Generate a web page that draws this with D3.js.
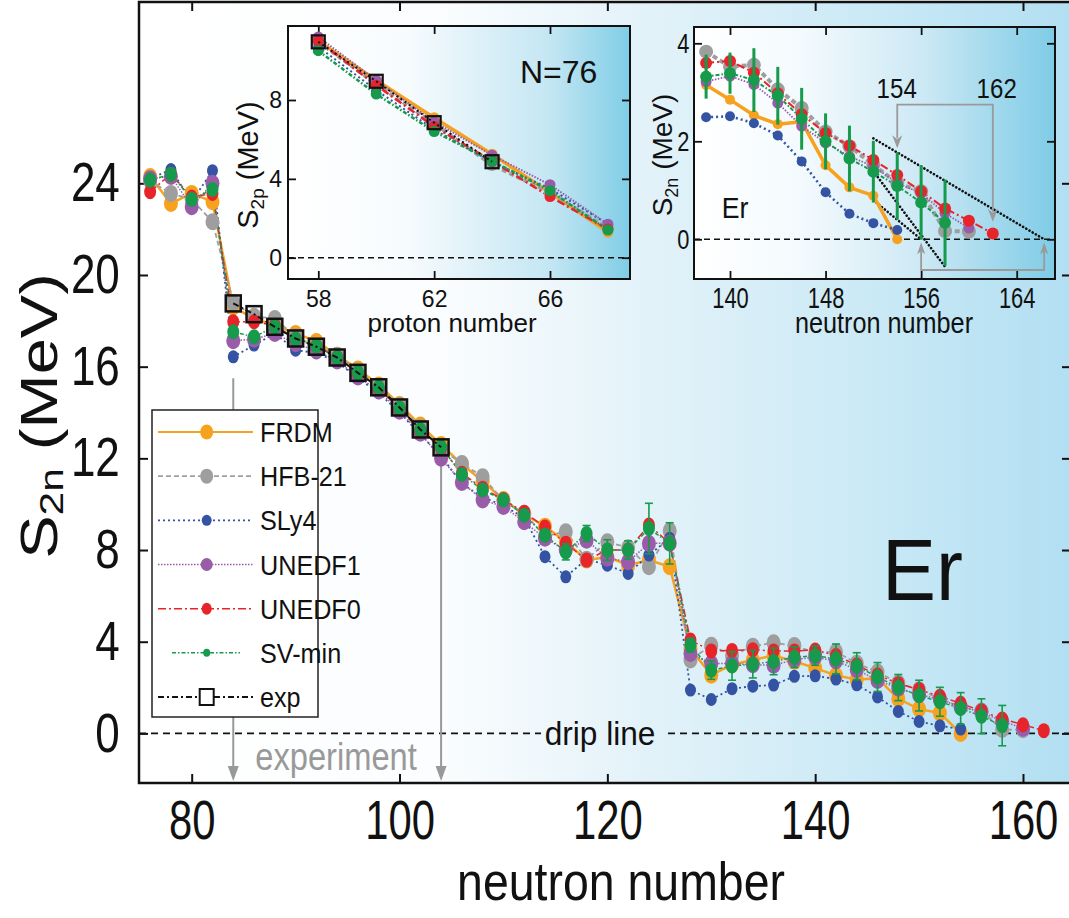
<!DOCTYPE html>
<html><head><meta charset="utf-8">
<script src="https://cdn.jsdelivr.net/npm/d3@7"></script>
<style>body{margin:0;background:#fff} svg{display:block} text{font-family:"Liberation Sans",Arial,Helvetica,sans-serif}</style>
</head><body><svg id="c" width="1069" height="918"></svg>
<script>
// ---------------- DATA ----------------
const neutrons = [76,78,80,82,84,86,88,90,92,94,96,98,100,102,104,106,108,110,112,114,116,118,120,122,124,126,128,130,132,134,136,138,140,142,144,146,148,150,152,154,156,158,160,162];
const frdm   = [24.3,23.12,23.56,23.2,18.6,18.1,17.8,17.45,17.1,16.5,15.9,15.2,14.35,13.45,12.6,11.75,11.0,10.2,9.55,9.04,8.36,7.56,7.7,7.34,7.56,7.27,3.7,2.54,3.0,3.2,3.4,3.15,2.85,2.53,2.35,2.40,1.51,1.06,0.89,0.0,null,null,null,null];
const hfb21  = [24.1,23.56,23.3,22.32,18.8,18.2,18.1,17.3,16.9,16.5,15.8,15.15,14.3,13.35,12.4,11.78,11.2,10.15,9.6,8.6,8.8,7.6,8.36,8.1,7.27,8.84,3.2,3.85,3.4,3.8,3.95,3.83,3.52,3.56,3.06,2.68,2.2,1.9,1.52,1.15,0.98,0.17,0.16,null];
const sly4   = [24.2,24.6,23.2,24.55,16.43,16.94,17.45,16.72,16.6,16.2,15.5,14.85,14.0,13.05,12.1,10.9,10.3,9.95,9.4,7.71,6.83,7.6,7.34,6.98,7.78,8.51,1.89,1.48,1.95,2.06,2.11,2.49,2.51,2.37,2.12,1.59,0.96,0.52,0.33,0.19,null,null,null,null];
const unedf1 = [24.2,24.3,22.98,24.0,17.13,17.2,17.45,17.0,16.7,16.25,15.55,14.95,14.05,13.1,12.0,10.95,10.18,9.9,9.23,8.51,8.0,8.43,7.64,7.49,8.29,8.3,3.49,3.05,3.05,3.0,2.97,3.22,3.33,3.16,2.78,2.31,1.97,1.69,1.49,1.15,0.94,0.53,0.23,null];
const unedf0 = [23.63,24.4,23.4,23.56,17.96,17.96,17.8,17.2,16.9,16.4,15.7,15.05,14.15,13.2,12.45,11.35,10.7,10.2,9.65,9.0,8.3,7.56,8.0,8.0,9.09,8.3,4.07,3.6,3.62,3.65,3.6,3.6,3.64,3.4,2.98,2.55,2.17,1.91,1.62,1.31,0.98,0.63,0.38,0.12];
const svmin  = [24.14,24.4,23.3,23.73,17.52,17.3,17.74,17.2,16.9,16.4,15.75,15.1,14.2,13.25,12.5,11.3,10.62,10.18,9.52,8.65,7.92,8.72,8.0,8.0,8.94,8.29,3.85,2.76,2.94,3.02,3.14,3.32,3.39,3.25,2.93,2.46,2.0,1.65,1.38,1.09,0.75,0.34,null,null];
const svminErr = [0.15,0.15,0.15,0.15,0.15,0.15,0.15,0.15,0.15,0.15,0.3,0.2,0.2,0.2,0.2,0.2,0.2,0.2,0.2,0.25,0.35,0.35,0.45,0.4,1.1,0.9,0.3,0.4,0.62,0.6,0.58,0.45,0.42,0.65,0.59,0.63,0.57,0.67,0.63,0.69,0.76,0.88,null,null];
const expN   = [84,86,88,90,92,94,96,98,100,102,104];
const expS2n = [18.76,18.29,17.74,17.23,16.87,16.4,15.73,15.1,14.22,13.26,12.48];

const xTicks = [80,100,120,140,160];
const yTicks = [0,4,8,12,16,20,24];

// inset 1 : N = 76 isotones
const protonZ  = [58,60,62,64,66,68];
const s2pFRDM  = [11.0,9.0,7.1,5.25,3.3,1.3];
const s2pHFB   = [10.95,8.8,6.8,4.7,3.3,1.5];
const s2pSLy4  = [10.7,8.5,6.5,4.85,3.5,1.7];
const s2pUN1   = [11.2,9.0,6.9,5.2,3.7,1.7];
const s2pUN0   = [11.0,8.75,6.65,4.9,3.1,1.45];
const s2pSV    = [10.5,8.3,6.4,4.9,3.4,1.4];
const expZ     = [58,60,62,64];
const s2pExp   = [10.95,8.95,6.85,4.87];
const in1XTicks = [58,62,66];
const in1YTicks = [0,4,8];

// inset 2 : Er drip line region
const in2Start = 138;
const in2XTicks = [140,148,156,164];
const in2YTicks = [0,2,4];
const extrapLines = [[[152,2.06],[166.3,0]],[[152,1.39],[158,-0.56]],[[152,0.8],[156,0]]];
const bracketTop = [[154,1.86],[162,0.36]];
const bracketBottom = [156,166.3];

// ---------------- STYLE ----------------
const series = [
 {name:"FRDM",   vals:frdm,   color:"#f6a21e", dash:null,          w:2.5, rx:7,   ry:8.5, lrx:6.5, lry:7.5, r1:5.5, w1:3.5, w2:3.5, r2:5},
 {name:"HFB-21", vals:hfb21,  color:"#9e9e9e", dash:"5,3",         w:1.8, rx:7,   ry:8.5, lrx:6.5, lry:7.5, r1:6,   w1:3.5, w2:4,   r2:7},
 {name:"SLy4",   vals:sly4,   color:"#3553a3", dash:"2,3",         w:1.8, rx:5.5, ry:6.5, lrx:5,   lry:5.5, r1:5,   w1:2,   w2:2.5, r2:5},
 {name:"UNEDF1", vals:unedf1, color:"#9a5ba8", dash:"1.5,1.5",     w:1.5, rx:7,   ry:8.5, lrx:6,   lry:6.5, r1:5.5, w1:2,   w2:1.8, r2:5.5},
 {name:"UNEDF0", vals:unedf0, color:"#e8242b", dash:"8,3,2,3",     w:1.5, rx:6,   ry:7.5, lrx:5,   lry:6,   r1:5.5, w1:2.5, w2:2,   r2:6},
 {name:"SV-min", vals:svmin,  color:"#169a4b", dash:"4,2,1.5,2",   w:1.5, rx:6,   ry:7.5, lrx:3.5, lry:4,   r1:5.5, w1:2.5, w2:2,   r2:6}
];
const inset1Vals = [s2pFRDM,s2pHFB,s2pSLy4,s2pUN1,s2pUN0,s2pSV];

// ---------------- HELPERS ----------------
const svg = d3.select("#c");
const defs = svg.append("defs");
function grad(id, stops){
  const g = defs.append("linearGradient").attr("id",id).attr("x1",0).attr("x2",1).attr("y1",0).attr("y2",0);
  stops.forEach(s=>g.append("stop").attr("offset",s[0]).attr("stop-color",s[1]));
}
grad("gMain",[[0,"#ffffff"],[0.32,"#fbfdfe"],[0.54,"#e3f2f9"],[0.77,"#cceaf6"],[1,"#b2dff2"]]);
grad("gIn1",[[0,"#ffffff"],[0.35,"#f7fbfd"],[0.77,"#c3e6f3"],[1,"#7fcde6"]]);
grad("gIn2",[[0,"#ffffff"],[0.3,"#f3fafd"],[0.63,"#cde9f5"],[1,"#7fcce6"]]);

function T(g, x, y, str, size, o={}){
  return g.append("text")
    .attr("transform",`translate(${x},${y}) rotate(${o.rot||0}) scale(${o.sx||1},1)`)
    .attr("font-size",size).attr("text-anchor",o.anchor||"start")
    .attr("fill",o.fill||"#111").text(str);
}
function styleAxis(g, size, sx, sw){
  g.select(".domain").remove();
  g.selectAll(".tick line").attr("stroke","#111").attr("stroke-width",sw);
  g.selectAll(".tick text").attr("font-size",size).attr("fill","#111")
    .attr("font-family",'"Liberation Sans",Arial,sans-serif')
    .attr("transform",`scale(${sx},1)`);
}

// ---------------- MAIN PLOT ----------------
const X0=139, X1=1071, Y0=2, Y1=783;
const x = d3.scaleLinear().domain([80,160]).range([191.7,1023]);
const y = d3.scaleLinear().domain([0,24]).range([733.4,183.3]);

svg.append("rect").attr("x",X0).attr("y",Y0).attr("width",X1-X0).attr("height",Y1-Y0).attr("fill","url(#gMain)");

// drip line
svg.append("line").attr("x1",X0).attr("x2",541).attr("y1",y(0)).attr("y2",y(0)).attr("stroke","#111").attr("stroke-width",1.8).attr("stroke-dasharray","7,5");
svg.append("line").attr("x1",668).attr("x2",X1).attr("y1",y(0)).attr("y2",y(0)).attr("stroke","#111").attr("stroke-width",1.8).attr("stroke-dasharray","7,5");
T(svg, 600, 745, "drip line", 34, {anchor:"middle", sx:0.93});

// experiment arrows
function vArrow(g, xx, ya, yb, col, w, hw, hl){
  g.append("line").attr("x1",xx).attr("x2",xx).attr("y1",ya).attr("y2",yb-hl+1).attr("stroke",col).attr("stroke-width",w);
  const dir = yb>ya?1:-1;
  g.append("path").attr("d",`M${xx-hw},${yb-dir*hl} L${xx+hw},${yb-dir*hl} L${xx},${yb} Z`).attr("fill",col);
}
vArrow(svg, x(84), y(15.5), 781, "#999", 2, 5.5, 15);
vArrow(svg, x(104), y(11.7), 781, "#999", 2, 5.5, 15);
T(svg, 336, 770, "experiment", 38, {anchor:"middle", sx:0.86, fill:"#999"});

// axes
const gxB = svg.append("g").attr("transform",`translate(0,${Y1})`)
  .call(d3.axisBottom(x).tickValues(xTicks).tickSize(-9).tickPadding(17).tickFormat(d3.format("d")));
styleAxis(gxB, 55, 0.76, 2);
const gxT = svg.append("g").attr("transform",`translate(0,${Y0})`)
  .call(d3.axisTop(x).tickValues(xTicks).tickSize(-9).tickFormat(""));
styleAxis(gxT, 55, 1, 2);
const gyL = svg.append("g").attr("transform",`translate(${X0},0)`)
  .call(d3.axisLeft(y).tickValues(yTicks).tickSize(-9).tickPadding(24).tickFormat(d3.format("d")));
styleAxis(gyL, 55, 0.8, 2);
const gyR = svg.append("g").attr("transform",`translate(${X1},0)`)
  .call(d3.axisRight(y).tickValues(yTicks).tickSize(-9).tickFormat(""));
styleAxis(gyR, 55, 1, 2);
// frame
svg.append("path").attr("d",`M${X1},${Y0} L${X0},${Y0} L${X0},${Y1} L${X1},${Y1}`).attr("fill","none").attr("stroke","#111").attr("stroke-width",2.5);

// axis titles
T(svg, 621, 900, "neutron number", 54, {anchor:"middle", sx:0.86});
const yt = svg.append("text").attr("transform","translate(57,416) rotate(-90) scale(1.25,1)").attr("font-size",52).attr("text-anchor","middle").attr("fill","#111");
yt.append("tspan").text("S");
yt.append("tspan").attr("font-size",34).attr("dy",6).text("2n");
yt.append("tspan").attr("dy",-6).text(" (MeV)");

// big Er
T(svg, 882, 600, "Er", 88, {sx:0.92});

// series lines + markers
const mainG = svg.append("g");
series.forEach(s=>{
  const pts = neutrons.map((n,i)=>({n, v:s.vals[i]})).filter(d=>d.v!=null);
  mainG.append("path").datum(pts)
    .attr("d", d3.line().x(d=>x(d.n)).y(d=>y(d.v)))
    .attr("fill","none").attr("stroke",s.color).attr("stroke-width",s.w)
    .attr("stroke-dasharray",s.dash);
});
const expPts = expN.map((n,i)=>({n, v:expS2n[i]}));
series.forEach(s=>{
  const pts = neutrons.map((n,i)=>({n, v:s.vals[i], e:svminErr[i]})).filter(d=>d.v!=null);
  if(s.name==="SV-min"){
    const eg = mainG.append("g").attr("stroke",s.color).attr("stroke-width",1.6);
    pts.forEach(d=>{
      eg.append("line").attr("x1",x(d.n)).attr("x2",x(d.n)).attr("y1",y(d.v-d.e)).attr("y2",y(d.v+d.e));
      eg.append("line").attr("x1",x(d.n)-4).attr("x2",x(d.n)+4).attr("y1",y(d.v-d.e)).attr("y2",y(d.v-d.e));
      eg.append("line").attr("x1",x(d.n)-4).attr("x2",x(d.n)+4).attr("y1",y(d.v+d.e)).attr("y2",y(d.v+d.e));
    });
  }
  mainG.append("g").selectAll("ellipse").data(pts).join("ellipse")
    .attr("cx",d=>x(d.n)).attr("cy",d=>y(d.v)).attr("rx",s.rx).attr("ry",s.ry).attr("fill",s.color);
});
mainG.append("path").datum(expPts)
  .attr("d", d3.line().x(d=>x(d.n)).y(d=>y(d.v)))
  .attr("fill","none").attr("stroke","#111").attr("stroke-width",2).attr("stroke-dasharray","6,3,2,3");
mainG.append("g").selectAll("rect").data(expPts).join("rect")
  .attr("x",d=>x(d.n)-7.5).attr("y",d=>y(d.v)-8).attr("width",15).attr("height",16)
  .attr("fill","none").attr("stroke","#111").attr("stroke-width",2.5);

// legend
const lg = svg.append("g");
lg.append("rect").attr("x",152).attr("y",410).attr("width",166).attr("height",307).attr("fill","#fff").attr("stroke","#222").attr("stroke-width",1.5);
const legY = d3.scaleLinear().domain([0,6]).range([432,697]);
series.forEach((s,i)=>{
  const yy = legY(i);
  const xa = s.name==="SV-min"?172:158, xb = s.name==="SV-min"?240:253;
  lg.append("line").attr("x1",xa).attr("x2",xb).attr("y1",yy).attr("y2",yy).attr("stroke",s.color).attr("stroke-width",Math.min(s.w,2)).attr("stroke-dasharray",s.dash);
  lg.append("ellipse").attr("cx",206.7).attr("cy",yy).attr("rx",s.lrx).attr("ry",s.lry).attr("fill",s.color);
  T(lg, 260, yy+10, s.name, 28, {sx:0.9});
});
{
  const yy = legY(6);
  lg.append("line").attr("x1",158).attr("x2",253).attr("y1",yy).attr("y2",yy).attr("stroke","#111").attr("stroke-width",1.8).attr("stroke-dasharray","6,3,2,3");
  lg.append("rect").attr("x",199.7).attr("y",yy-8).attr("width",14).attr("height",16).attr("fill","#fff").attr("stroke","#111").attr("stroke-width",2);
  T(lg, 260, yy+10, "exp", 28, {sx:0.9});
}

// ---------------- INSET 1 ----------------
{
  const L=288,R=630,TT=26,B=279;
  const xi = d3.scaleLinear().domain([58,66]).range([318.3,550]);
  const yi = d3.scaleLinear().domain([0,8]).range([257.7,100]);
  const g = svg.append("g");
  g.append("rect").attr("x",L).attr("y",TT).attr("width",R-L).attr("height",B-TT).attr("fill","url(#gIn1)");
  g.append("line").attr("x1",L).attr("x2",R).attr("y1",yi(0)).attr("y2",yi(0)).attr("stroke","#111").attr("stroke-width",1.5).attr("stroke-dasharray","6,4");
  const a1 = g.append("g").attr("transform",`translate(0,${B})`).call(d3.axisBottom(xi).tickValues(in1XTicks).tickSize(-8).tickPadding(12).tickFormat(d3.format("d")));
  styleAxis(a1, 23, 1, 1.8);
  const a2 = g.append("g").attr("transform",`translate(0,${TT})`).call(d3.axisTop(xi).tickValues(in1XTicks).tickSize(-8).tickFormat(""));
  styleAxis(a2, 23, 1, 1.8);
  const a3 = g.append("g").attr("transform",`translate(${L},0)`).call(d3.axisLeft(yi).tickValues(in1YTicks).tickSize(-8).tickPadding(6).tickFormat(d3.format("d")));
  styleAxis(a3, 23, 1, 1.8);
  const a4 = g.append("g").attr("transform",`translate(${R},0)`).call(d3.axisRight(yi).tickValues(in1YTicks).tickSize(-8).tickFormat(""));
  styleAxis(a4, 23, 1, 1.8);
  g.append("rect").attr("x",L).attr("y",TT).attr("width",R-L).attr("height",B-TT).attr("fill","none").attr("stroke","#111").attr("stroke-width",2);
  series.forEach((s,k)=>{
    const pts = protonZ.map((z,i)=>({z, v:inset1Vals[k][i]}));
    g.append("path").datum(pts).attr("d",d3.line().x(d=>xi(d.z)).y(d=>yi(d.v)))
      .attr("fill","none").attr("stroke",s.color).attr("stroke-width",s.w1).attr("stroke-dasharray",s.dash);
  });
  series.forEach((s,k)=>{
    const pts = protonZ.map((z,i)=>({z, v:inset1Vals[k][i]}));
    g.append("g").selectAll("circle").data(pts).join("circle").attr("cx",d=>xi(d.z)).attr("cy",d=>yi(d.v)).attr("r",s.r1).attr("fill",s.color);
  });
  const ep = expZ.map((z,i)=>({z, v:s2pExp[i]}));
  g.append("path").datum(ep).attr("d",d3.line().x(d=>xi(d.z)).y(d=>yi(d.v))).attr("fill","none").attr("stroke","#111").attr("stroke-width",2).attr("stroke-dasharray","2,3");
  g.append("g").selectAll("rect").data(ep).join("rect").attr("x",d=>xi(d.z)-6.5).attr("y",d=>yi(d.v)-6.5).attr("width",13).attr("height",13).attr("fill","none").attr("stroke","#111").attr("stroke-width",2.2);
  T(g, 520, 83, "N=76", 32);
  T(g, 452, 332, "proton number", 26, {anchor:"middle"});
  const t = g.append("text").attr("transform","translate(258,165) rotate(-90)").attr("font-size",29).attr("text-anchor","middle").attr("fill","#111");
  t.append("tspan").text("S"); t.append("tspan").attr("font-size",19).attr("dy",6).text("2p"); t.append("tspan").attr("dy",-6).text(" (MeV)");
}

// ---------------- INSET 2 ----------------
{
  const L=694,R=1055,TT=27,B=279;
  const xi = d3.scaleLinear().domain([140,164]).range([730,1016.7]);
  const yi = d3.scaleLinear().domain([0,4]).range([239.3,43.3]);
  const g = svg.append("g");
  g.append("rect").attr("x",L).attr("y",TT).attr("width",R-L).attr("height",B-TT).attr("fill","url(#gIn2)");
  g.append("line").attr("x1",L).attr("x2",R).attr("y1",yi(0)).attr("y2",yi(0)).attr("stroke","#111").attr("stroke-width",1.5).attr("stroke-dasharray","6,4");
  const a1 = g.append("g").attr("transform",`translate(0,${B})`).call(d3.axisBottom(xi).tickValues(in2XTicks).tickSize(-8).tickPadding(8).tickFormat(d3.format("d")));
  styleAxis(a1, 30, 0.73, 1.8);
  const a2 = g.append("g").attr("transform",`translate(0,${TT})`).call(d3.axisTop(xi).tickValues(in2XTicks).tickSize(-8).tickFormat(""));
  styleAxis(a2, 30, 1, 1.8);
  const a3 = g.append("g").attr("transform",`translate(${L},0)`).call(d3.axisLeft(yi).tickValues(in2YTicks).tickSize(-8).tickPadding(6).tickFormat(d3.format("d")));
  styleAxis(a3, 28, 0.78, 1.8);
  const a4 = g.append("g").attr("transform",`translate(${R},0)`).call(d3.axisRight(yi).tickValues(in2YTicks).tickSize(-8).tickFormat(""));
  styleAxis(a4, 28, 1, 1.8);
  g.append("rect").attr("x",L).attr("y",TT).attr("width",R-L).attr("height",B-TT).attr("fill","none").attr("stroke","#111").attr("stroke-width",2);
  // extrapolation lines
  extrapLines.forEach(l=>{
    g.append("line").attr("x1",xi(l[0][0])).attr("y1",yi(l[0][1])).attr("x2",xi(l[1][0])).attr("y2",yi(l[1][1]))
      .attr("stroke","#111").attr("stroke-width",2.6).attr("stroke-linecap","round").attr("stroke-dasharray","0.1,3.6");
  });
  // brackets
  const gc = "#9a9a9a";
  const yTop = yi(2.75), yBot = 270;
  g.append("path").attr("d",`M${xi(bracketTop[0][0])},${yi(bracketTop[0][1])-10} L${xi(bracketTop[0][0])},${yTop} L${xi(bracketTop[1][0])},${yTop} L${xi(bracketTop[1][0])},${yi(bracketTop[1][1])-10}`).attr("fill","none").attr("stroke",gc).attr("stroke-width",1.8);
  bracketTop.forEach(b=>{
    const xx=xi(b[0]), yy=yi(b[1]);
    g.append("path").attr("d",`M${xx-5},${yy-13} L${xx},${yy-9} L${xx+5},${yy-13} L${xx},${yy} Z`).attr("fill",gc);
  });
  g.append("path").attr("d",`M${xi(bracketBottom[0])},${yi(0)+12} L${xi(bracketBottom[0])},${yBot} L${xi(bracketBottom[1])},${yBot} L${xi(bracketBottom[1])},${yi(0)+12}`).attr("fill","none").attr("stroke",gc).attr("stroke-width",1.8);
  bracketBottom.forEach(b=>{
    const xx=xi(b), yy=yi(0)+3;
    g.append("path").attr("d",`M${xx-4},${yy+12} L${xx},${yy+9} L${xx+4},${yy+12} L${xx},${yy} Z`).attr("fill",gc);
  });
  // series
  series.forEach(s=>{
    const pts = neutrons.map((n,i)=>({n, v:s.vals[i]})).filter(d=>d.v!=null && d.n>=in2Start);
    g.append("path").datum(pts).attr("d",d3.line().x(d=>xi(d.n)).y(d=>yi(d.v)))
      .attr("fill","none").attr("stroke",s.color).attr("stroke-width",s.w2).attr("stroke-dasharray",s.dash);
  });
  series.forEach(s=>{
    const pts = neutrons.map((n,i)=>({n, v:s.vals[i], e:svminErr[i]})).filter(d=>d.v!=null && d.n>=in2Start);
    if(s.name==="SV-min"){
      g.append("g").selectAll("line").data(pts).join("line").attr("x1",d=>xi(d.n)).attr("x2",d=>xi(d.n))
        .attr("y1",d=>yi(d.v-d.e)).attr("y2",d=>yi(d.v+d.e)).attr("stroke",s.color).attr("stroke-width",3);
    }
    g.append("g").selectAll("circle").data(pts).join("circle").attr("cx",d=>xi(d.n)).attr("cy",d=>yi(d.v)).attr("r",s.r2).attr("fill",s.color);
  });
  T(g, 896.7, 98, "154", 28, {anchor:"middle", sx:0.86});
  T(g, 996.7, 98, "162", 28, {anchor:"middle", sx:0.86});
  T(g, 721.7, 218, "Er", 30, {sx:0.89});
  T(g, 884, 333, "neutron number", 29, {anchor:"middle", sx:0.87});
  const t = g.append("text").attr("transform","translate(672,155) rotate(-90)").attr("font-size",28).attr("text-anchor","middle").attr("fill","#111");
  t.append("tspan").text("S"); t.append("tspan").attr("font-size",18).attr("dy",6).text("2n"); t.append("tspan").attr("dy",-6).text(" (MeV)");
}
</script></body></html>
